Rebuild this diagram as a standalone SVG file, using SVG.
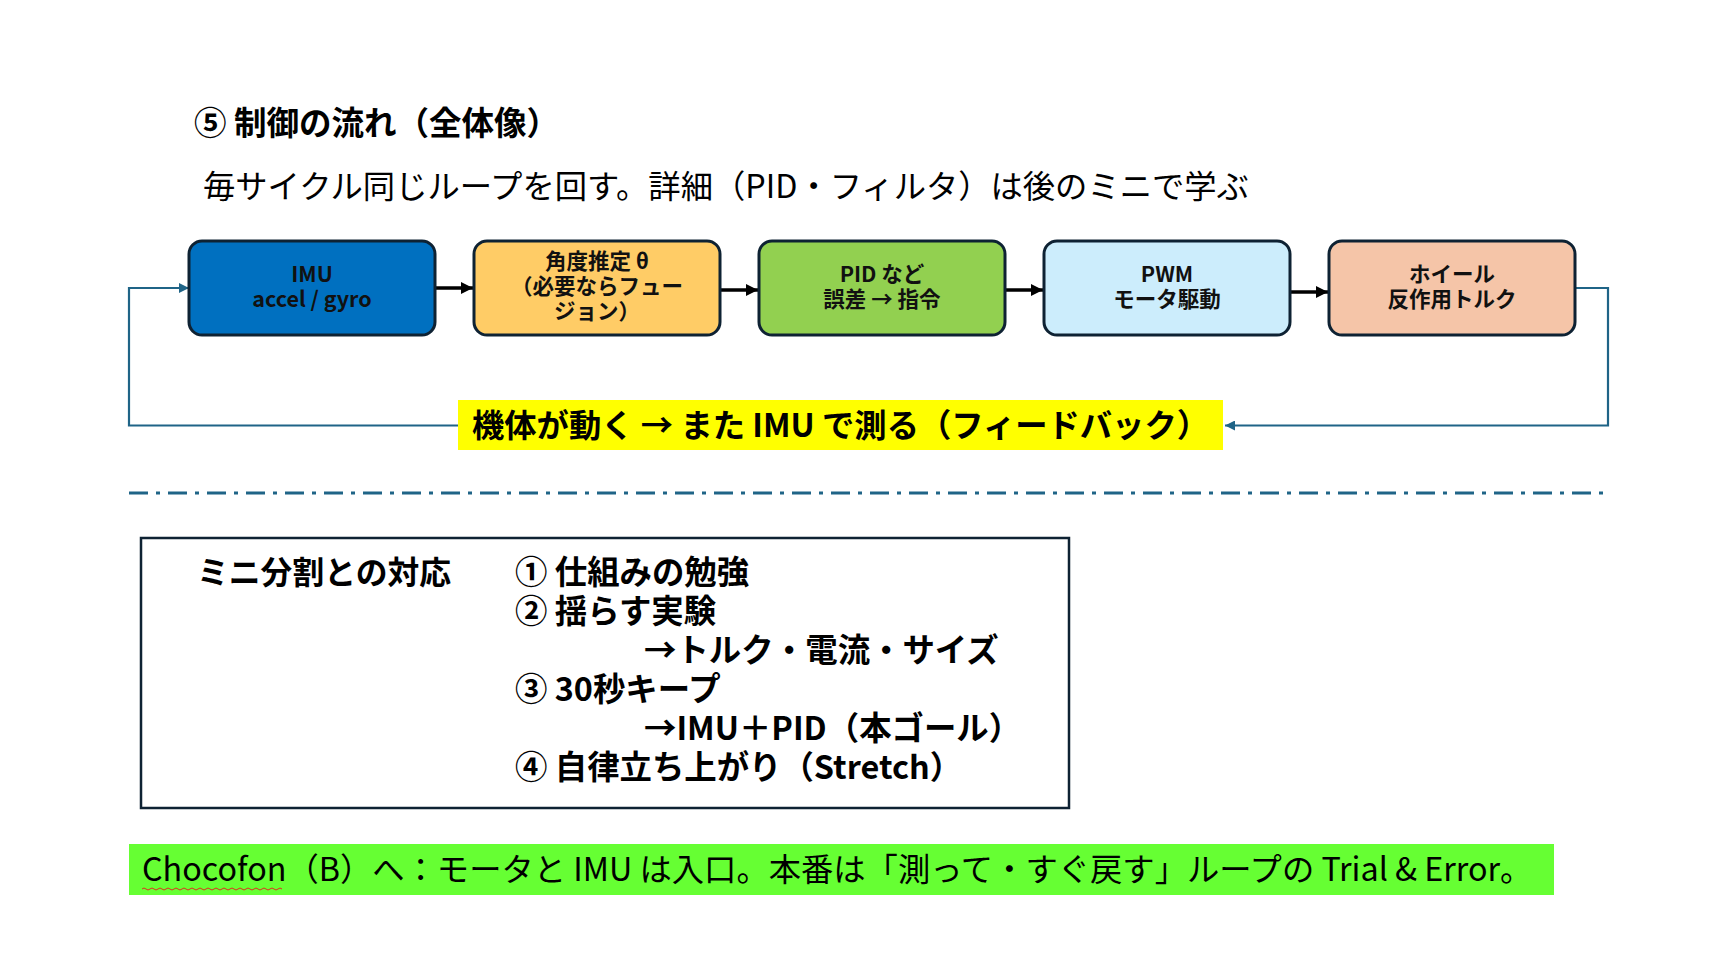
<svg xmlns="http://www.w3.org/2000/svg" width="1711" height="955" viewBox="0 0 1711 955">
<defs>
<style>
text{font-family:"Noto Sans CJK JP","Noto Sans",sans-serif;fill:#000}
.b{font-weight:bold}
.box{stroke:#0E2233;stroke-width:3}
.bt{font-size:21.5px;font-weight:bold;text-anchor:middle;fill:#111}
.arr{stroke:#000;stroke-width:3.5;fill:none}
.fb{stroke:#1F6487;stroke-width:2.2;fill:none}
.mt{font-size:32.4px;font-weight:bold}
</style>
<marker id="ah" viewBox="0 0 10 10" refX="10" refY="5" markerWidth="12" markerHeight="12" markerUnits="userSpaceOnUse" orient="auto"><path d="M0,0 L10,5 L0,10 z" fill="#000"/></marker>
<marker id="fh" viewBox="0 0 10 10" refX="10" refY="5" markerWidth="10" markerHeight="10" markerUnits="userSpaceOnUse" orient="auto"><path d="M0,0 L10,5 L0,10 z" fill="#1F6487"/></marker>
</defs>
<rect width="1711" height="955" fill="#fff"/>
<g id="title"><text class="b" x="194" y="135" font-size="32.5">⑤ 制御の流れ（全体像）</text></g>
<g id="subtitle"><text x="203" y="198" font-size="32.3" fill="#1a1a1a">毎サイクル同じループを回す。詳細（PID・フィルタ）は後のミニで学ぶ</text></g>

<g id="connectors">
<line class="arr" x1="436" y1="288" x2="473" y2="288" marker-end="url(#ah)"/>
<line class="arr" x1="721" y1="290" x2="758" y2="290" marker-end="url(#ah)"/>
<line class="arr" x1="1006" y1="290" x2="1043" y2="290" marker-end="url(#ah)"/>
<line class="arr" x1="1291" y1="292" x2="1328" y2="292" marker-end="url(#ah)"/>
<polyline class="fb" points="1575,288 1608,288 1608,425.5 1225,425.5" marker-end="url(#fh)"/>
<polyline class="fb" points="458,425.5 129,425.5 129,288 189,288" marker-end="url(#fh)"/>
</g>

<g id="n1"><rect class="box" x="189" y="241" width="246" height="94" rx="13" fill="#0070C0"/>
<text class="bt" x="312" y="282">IMU</text><text class="bt" x="312" y="307">accel / gyro</text></g>
<g id="n2"><rect class="box" x="474" y="241" width="246" height="94" rx="13" fill="#FFCC66"/>
<text class="bt" x="597" y="269">角度推定 θ</text><text class="bt" x="597" y="294">（必要ならフュー</text><text class="bt" x="597" y="319">ジョン）</text></g>
<g id="n3"><rect class="box" x="759" y="241" width="246" height="94" rx="13" fill="#92D050"/>
<text class="bt" x="882" y="282">PID など</text><text class="bt" x="882" y="307">誤差 → 指令</text></g>
<g id="n4"><rect class="box" x="1044" y="241" width="246" height="94" rx="13" fill="#CCEDFC"/>
<text class="bt" x="1167" y="282">PWM</text><text class="bt" x="1167" y="307">モータ駆動</text></g>
<g id="n5"><rect class="box" x="1329" y="241" width="246" height="94" rx="13" fill="#F5C5A8"/>
<text class="bt" x="1452" y="282">ホイール</text><text class="bt" x="1452" y="307">反作用トルク</text></g>

<g id="feedback-label"><rect x="458" y="400" width="765" height="50" fill="#FFFF00"/>
<text class="b" x="472" y="437" font-size="32.3">機体が動く → また IMU で測る（フィードバック）</text></g>

<g id="divider"><line x1="129" y1="493" x2="1608" y2="493" stroke="#1F6487" stroke-width="3" stroke-dasharray="19 8 4 8"/></g>

<g id="mini-table"><rect x="141" y="538" width="928" height="270" fill="#fff" stroke="#0E2233" stroke-width="2.5"/>
<text class="mt" x="197" y="584" style="font-size:31.8px">ミニ分割との対応</text>
<text class="mt" x="515" y="584">① 仕組みの勉強</text>
<text class="mt" x="515" y="623">② 揺らす実験</text>
<text class="mt" x="644" y="662">→トルク・電流・サイズ</text>
<text class="mt" x="515" y="701">③ 30秒キープ</text>
<text class="mt" x="644" y="740">→IMU＋PID（本ゴール）</text>
<text class="mt" x="515" y="779">④ 自律立ち上がり（Stretch）</text>
</g>

<g id="footer"><rect x="129" y="844" width="1425" height="51" fill="#66FF33"/>
<text x="142" y="881" font-size="32.3">Chocofon（B）へ：モータと IMU は入口。本番は「測って・すぐ戻す」ループの Trial &amp; Error。</text>
<path d="M142,889 q2,-2 4,0 t4,0 t4,0 t4,0 t4,0 t4,0 t4,0 t4,0 t4,0 t4,0 t4,0 t4,0 t4,0 t4,0 t4,0 t4,0 t4,0 t4,0 t4,0 t4,0 t4,0 t4,0 t4,0 t4,0 t4,0 t4,0 t4,0 t4,0 t4,0 t4,0 t4,0 t4,0 t4,0 t4,0 t4,0" fill="none" stroke="#E03020" stroke-width="1"/>
</g>
</svg>
